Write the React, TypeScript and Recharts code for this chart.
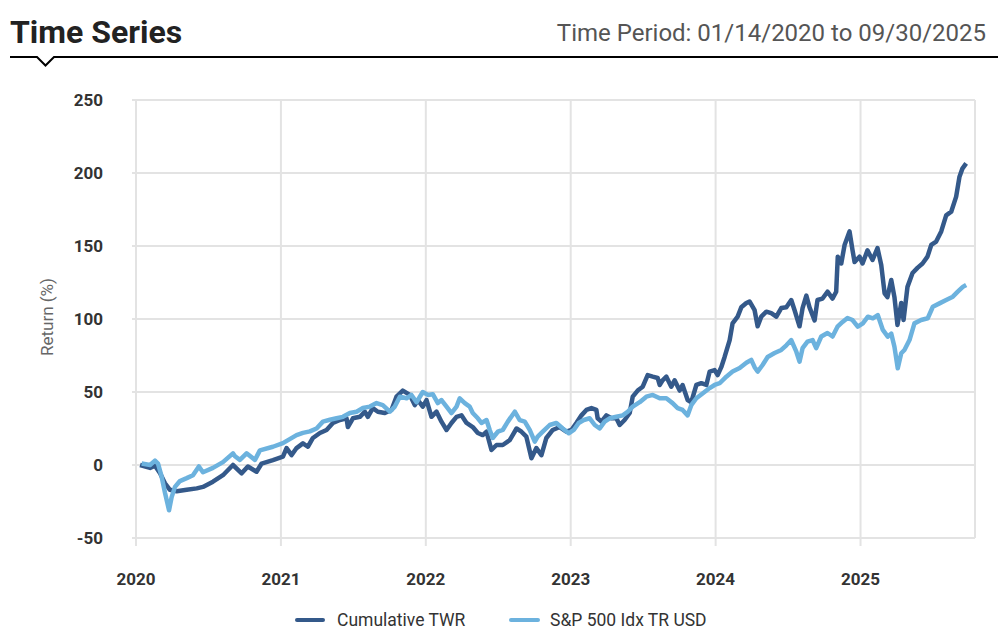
import React from "react";
import { LineChart, Line, XAxis, YAxis, CartesianGrid } from "recharts";

const twrT = [2020.028, 2020.097, 2020.131, 2020.166, 2020.2, 2020.234, 2020.281, 2020.35, 2020.419, 2020.462, 2020.531, 2020.6, 2020.669, 2020.729, 2020.772, 2020.832, 2020.867, 2020.945, 2021.014, 2021.039, 2021.074, 2021.108, 2021.152, 2021.186, 2021.221, 2021.269, 2021.315, 2021.359, 2021.407, 2021.453, 2021.462, 2021.497, 2021.545, 2021.579, 2021.6, 2021.634, 2021.669, 2021.717, 2021.763, 2021.798, 2021.841, 2021.89, 2021.924, 2021.945, 2021.979, 2022.005, 2022.039, 2022.074, 2022.108, 2022.143, 2022.177, 2022.212, 2022.246, 2022.281, 2022.324, 2022.359, 2022.393, 2022.419, 2022.453, 2022.488, 2022.531, 2022.579, 2022.626, 2022.66, 2022.694, 2022.729, 2022.763, 2022.798, 2022.832, 2022.876, 2022.924, 2022.97, 2023.005, 2023.039, 2023.074, 2023.108, 2023.143, 2023.177, 2023.186, 2023.212, 2023.246, 2023.281, 2023.315, 2023.338, 2023.372, 2023.407, 2023.428, 2023.462, 2023.497, 2023.531, 2023.566, 2023.6, 2023.614, 2023.634, 2023.66, 2023.694, 2023.717, 2023.752, 2023.772, 2023.807, 2023.832, 2023.867, 2023.901, 2023.936, 2023.959, 2023.993, 2024.014, 2024.039, 2024.062, 2024.097, 2024.117, 2024.152, 2024.177, 2024.212, 2024.234, 2024.269, 2024.29, 2024.315, 2024.35, 2024.384, 2024.419, 2024.453, 2024.488, 2024.522, 2024.545, 2024.579, 2024.6, 2024.626, 2024.648, 2024.683, 2024.703, 2024.738, 2024.772, 2024.807, 2024.832, 2024.843, 2024.867, 2024.89, 2024.924, 2024.945, 2024.959, 2024.993, 2025.014, 2025.048, 2025.083, 2025.117, 2025.143, 2025.166, 2025.186, 2025.212, 2025.234, 2025.255, 2025.281, 2025.297, 2025.324, 2025.359, 2025.393, 2025.428, 2025.462, 2025.488, 2025.522, 2025.557, 2025.591, 2025.626, 2025.66, 2025.683, 2025.703, 2025.729];
const twrV = [0, -2, -0.5, -5.7, -12.5, -17, -18, -17, -16, -15, -11.4, -7, 0, -5.7, -1, -4.6, 1, 3.4, 5.7, 11.6, 6.8, 11.6, 14.8, 12.5, 18.5, 21.9, 24, 28.8, 30.8, 32, 26, 32, 33, 36.5, 33, 39, 36.5, 35.6, 37.7, 46.8, 51, 48, 41, 44.5, 40, 44.5, 33, 36.5, 29.7, 24, 28.8, 33, 34, 28.8, 26, 21.9, 20.5, 22.8, 10.3, 13.7, 13.7, 17, 25, 22.8, 19.4, 4.6, 11.6, 6.8, 18.5, 24, 26, 22.8, 24, 28.8, 34, 37.7, 39, 37.7, 32, 29.7, 34, 32, 32, 27.4, 30.8, 35.6, 46.8, 51, 53.6, 61.6, 60.5, 59.6, 54.8, 58, 60.5, 53.6, 58, 51, 54.8, 44.5, 43, 54.8, 56, 54.8, 64, 65, 61.6, 67, 74, 85.6, 97, 101.6, 108, 111, 112, 106, 95, 101.6, 105, 104, 101.6, 107.5, 108, 113, 106, 95, 107.5, 116, 108, 99, 113, 114, 118.7, 114, 118.7, 142.7, 138, 150.7, 160, 147, 139, 142.7, 138, 147, 140.4, 148.6, 137, 117.6, 115, 126.7, 115, 95.9, 111, 99.3, 122, 131.5, 135, 138, 142.7, 150.7, 153, 160, 171, 173.5, 183.8, 197.5, 203, 206.6];

const spT = [2020.039, 2020.097, 2020.131, 2020.152, 2020.177, 2020.2, 2020.228, 2020.246, 2020.269, 2020.303, 2020.35, 2020.393, 2020.434, 2020.462, 2020.531, 2020.6, 2020.669, 2020.683, 2020.717, 2020.763, 2020.821, 2020.855, 2020.945, 2021.014, 2021.108, 2021.152, 2021.2, 2021.246, 2021.29, 2021.338, 2021.384, 2021.428, 2021.476, 2021.522, 2021.566, 2021.614, 2021.66, 2021.703, 2021.752, 2021.786, 2021.821, 2021.867, 2021.901, 2021.936, 2021.979, 2022.014, 2022.048, 2022.083, 2022.108, 2022.143, 2022.177, 2022.212, 2022.234, 2022.269, 2022.303, 2022.324, 2022.359, 2022.384, 2022.419, 2022.441, 2022.462, 2022.497, 2022.531, 2022.566, 2022.614, 2022.648, 2022.683, 2022.717, 2022.752, 2022.772, 2022.807, 2022.855, 2022.901, 2022.945, 2022.986, 2023.021, 2023.055, 2023.09, 2023.131, 2023.166, 2023.2, 2023.234, 2023.269, 2023.315, 2023.359, 2023.393, 2023.428, 2023.476, 2023.522, 2023.566, 2023.614, 2023.66, 2023.703, 2023.738, 2023.772, 2023.807, 2023.832, 2023.867, 2023.91, 2023.959, 2023.993, 2024.028, 2024.074, 2024.117, 2024.166, 2024.212, 2024.246, 2024.269, 2024.29, 2024.324, 2024.359, 2024.407, 2024.453, 2024.488, 2024.522, 2024.557, 2024.579, 2024.6, 2024.634, 2024.669, 2024.694, 2024.729, 2024.772, 2024.807, 2024.841, 2024.876, 2024.91, 2024.945, 2024.981, 2025.016, 2025.051, 2025.085, 2025.119, 2025.154, 2025.188, 2025.212, 2025.234, 2025.257, 2025.281, 2025.303, 2025.338, 2025.372, 2025.418, 2025.464, 2025.499, 2025.545, 2025.591, 2025.637, 2025.671, 2025.706, 2025.729];
const spV = [1, 0, 3, 1, -8, -19, -31, -22, -15, -11, -9, -7, -1, -5, -2, 2, 8, 6, 3.5, 8, 3.5, 10, 12.5, 15, 20.5, 22, 23, 25, 29.7, 31, 32, 33, 35.6, 36.5, 39, 40, 42.4, 41, 36.5, 40, 46.8, 45.7, 48, 43, 50, 48, 48.5, 42.4, 44.5, 40, 35.6, 40, 45.7, 42.4, 40, 35.6, 32, 28.8, 30.8, 24, 18.5, 22.8, 24, 29.7, 36.5, 30.8, 29.7, 24, 16, 19.4, 22.8, 27.4, 28.8, 25, 21.7, 24, 28.8, 30.8, 32, 27.4, 25, 29.7, 32, 33, 34, 36.5, 40, 43, 46.8, 48, 45.7, 45.7, 42.4, 39, 37.7, 34, 41, 45.7, 49, 52.7, 54.8, 56, 60.5, 64, 66.4, 70, 72, 67, 64, 68.5, 74, 76.7, 78.8, 82, 85.6, 77.6, 70.8, 80, 84.5, 85.6, 80, 88, 90.4, 88, 94.7, 98, 100.7, 99.3, 94.7, 97, 101.6, 100.5, 102.7, 92.5, 87.9, 90, 81, 66.2, 76.5, 78.8, 85.6, 97, 99.3, 100.5, 108.4, 110.7, 113, 115.3, 118.7, 122, 123.3];

const yTicks = [-50, 0, 50, 100, 150, 200, 250];
const xTicks = [2020, 2021, 2022, 2023, 2024, 2025];
const seriesNames = ["Cumulative TWR", "S&P 500 Idx TR USD"];
const colors = ["#34598a", "#6cb2de"];

function buildData() {
  const map = new Map<number, any>();
  twrT.forEach((t, i) => {
    const r = map.get(t) || { t };
    r.twr = twrV[i];
    map.set(t, r);
  });
  spT.forEach((t, i) => {
    const r = map.get(t) || { t };
    r.sp = spV[i];
    map.set(t, r);
  });
  return Array.from(map.values()).sort((a, b) => a.t - b.t);
}

const data = buildData();
const tickStyle = { fill: "#333", fontSize: 17, fontWeight: 700, fontFamily: "Roboto" };

export default function App() {
  return (
    <div style={{ position: "absolute", left: 0, top: 0, width: 1008, height: 642, background: "#fff", fontFamily: "Roboto" }}>
      <div style={{ position: "absolute", left: 10, top: 12, fontSize: 32, fontWeight: 700, color: "#222", lineHeight: "40px" }}>Time Series</div>
      <div style={{ position: "absolute", right: 22, top: 16, fontSize: 24, color: "#555", lineHeight: "34px" }}>Time Period: 01/14/2020 to 09/30/2025</div>
      <svg width={1008} height={80} style={{ position: "absolute", left: 0, top: 0 }}>
        <polyline points="10,57 37,57 45.5,65.5 54,57 998,57" fill="none" stroke="#000" strokeWidth={2} />
      </svg>
      <div style={{ position: "absolute", left: 0, top: 0 }}>
        <LineChart width={1008} height={642} data={data} margin={{ top: 100, right: 33, bottom: 64, left: 76 }}>
          <CartesianGrid stroke="#e3e3e3" strokeWidth={2} />
          <XAxis
            type="number"
            dataKey="t"
            domain={[2020, 2025.79]}
            ticks={xTicks}
            tickFormatter={(v) => String(Math.round(v))}
            height={40}
            axisLine={{ stroke: "#e3e3e3", strokeWidth: 2 }}
            tickLine={{ stroke: "#e3e3e3", strokeWidth: 2 }}
            tickSize={8}
            tickMargin={27}
            tick={tickStyle}
            allowDataOverflow
          />
          <YAxis
            type="number"
            domain={[-50, 250]}
            ticks={yTicks}
            width={60}
            axisLine={{ stroke: "#e3e3e3", strokeWidth: 2 }}
            tickLine={{ stroke: "#e3e3e3", strokeWidth: 2 }}
            tickSize={4}
            tickMargin={29}
            tick={tickStyle}
          />
          <Line dataKey="twr" type="linear" stroke={colors[0]} strokeWidth={4.5} dot={false} connectNulls isAnimationActive={false} strokeLinejoin="round" />
          <Line dataKey="sp" type="linear" stroke={colors[1]} strokeWidth={4.5} dot={false} connectNulls isAnimationActive={false} strokeLinejoin="round" />
        </LineChart>
      </div>
      <div style={{ position: "absolute", left: 47, top: 317, transform: "translate(-50%, -50%) rotate(-90deg)", fontSize: 17, color: "#666", whiteSpace: "nowrap" }}>Return (%)</div>
      <div style={{ position: "absolute", left: 295, top: 608, display: "flex", alignItems: "center", fontSize: 17.5, color: "#333", lineHeight: "24px" }}>
        <span style={{ display: "inline-block", width: 30, height: 4, background: colors[0], borderRadius: 2, marginRight: 12 }} />
        <span>{seriesNames[0]}</span>
      </div>
      <div style={{ position: "absolute", left: 509, top: 608, display: "flex", alignItems: "center", fontSize: 17.5, color: "#333", lineHeight: "24px" }}>
        <span style={{ display: "inline-block", width: 31, height: 4, background: colors[1], borderRadius: 2, marginRight: 10 }} />
        <span>{seriesNames[1]}</span>
      </div>
    </div>
  );
}
